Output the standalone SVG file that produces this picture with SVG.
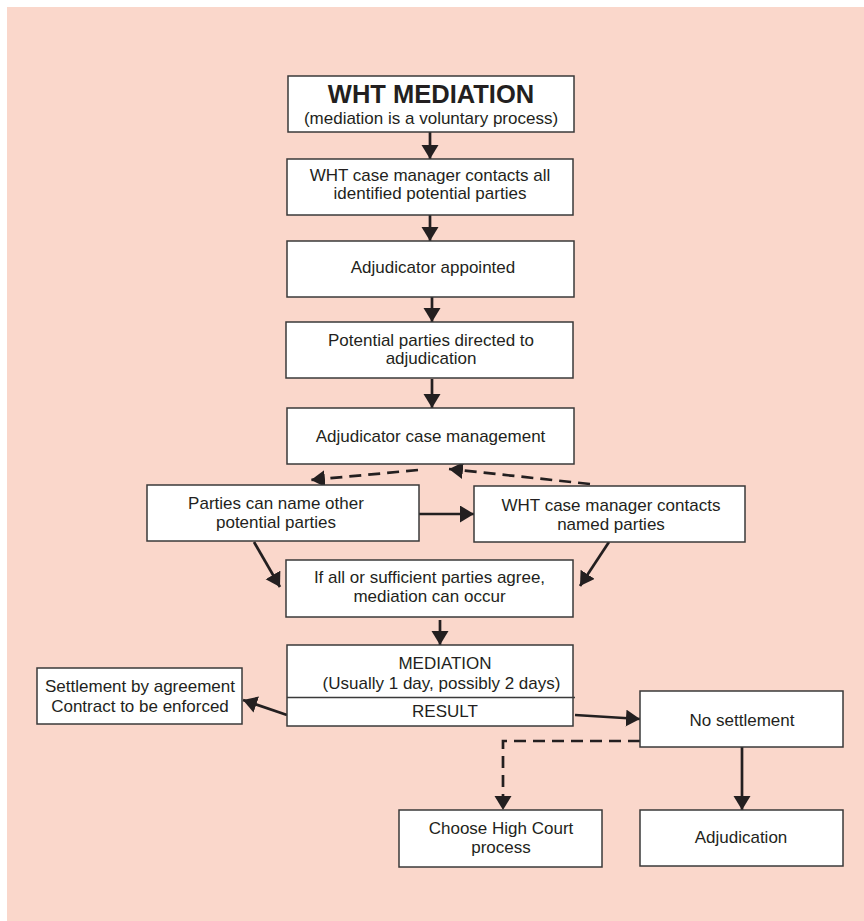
<svg xmlns="http://www.w3.org/2000/svg" width="864" height="921" viewBox="0 0 864 921">
<defs>
<style>
.box{fill:#fff;stroke:#3a3a3a;stroke-width:1.5}
.t{font-family:"Liberation Sans",Arial,Helvetica,sans-serif;font-size:17px;fill:#231f20;text-anchor:middle}
.title{font-family:"Liberation Sans",Arial,Helvetica,sans-serif;font-size:25.5px;font-weight:bold;fill:#231f20;text-anchor:middle}
.c{stroke:#231f20;stroke-width:2.7;fill:none;marker-end:url(#ah)}
.d{stroke:#231f20;stroke-width:2.7;fill:none;stroke-dasharray:12 7;marker-end:url(#ah)}
</style>
<marker id="ah" markerUnits="userSpaceOnUse" markerWidth="18" markerHeight="18" refX="14" refY="8.5" orient="auto">
<path d="M0,0 L14,8.5 L0,17 z" fill="#231f20"/>
</marker>
</defs>
<rect x="7" y="7" width="857" height="914" fill="#fad7cb"/>
<g id="connectors">
<line class="c" x1="430" y1="132" x2="430" y2="159"/>
<line class="c" x1="430" y1="215" x2="430" y2="241"/>
<line class="c" x1="432" y1="297" x2="432" y2="322"/>
<line class="c" x1="432" y1="379" x2="432" y2="408"/>
<line class="d" x1="418" y1="470" x2="311" y2="480"/>
<line class="d" x1="590" y1="484" x2="449" y2="469"/>
<line class="c" x1="419" y1="514" x2="474" y2="514"/>
<line class="c" x1="254" y1="542" x2="280" y2="587"/>
<line class="c" x1="609" y1="542" x2="580" y2="586"/>
<line class="c" x1="440" y1="620" x2="440" y2="645"/>
<line class="c" x1="287" y1="715" x2="243" y2="700"/>
<line class="c" x1="575" y1="715" x2="640" y2="719"/>
<polyline class="d" points="640,741 503,741 503,810"/>
<line class="c" x1="742" y1="747" x2="742" y2="810"/>
</g>
<g id="n-title">
<rect class="box" x="288" y="76" width="286" height="56"/>
<text class="title" x="431" y="103">WHT MEDIATION</text>
<text class="t" x="431" y="123.5">(mediation is a voluntary process)</text>
</g>
<g id="n-contacts">
<rect class="box" x="287" y="159" width="286" height="56"/>
<text class="t" x="430" y="180.7">WHT case manager contacts all</text>
<text class="t" x="430" y="199.3">identified potential parties</text>
</g>
<g id="n-appointed">
<rect class="box" x="287" y="241" width="287" height="56"/>
<text class="t" x="433" y="272.7">Adjudicator appointed</text>
</g>
<g id="n-directed">
<rect class="box" x="286" y="322" width="287" height="56"/>
<text class="t" x="431" y="345.7">Potential parties directed to</text>
<text class="t" x="431" y="364">adjudication</text>
</g>
<g id="n-casemgmt">
<rect class="box" x="287" y="408" width="287" height="56"/>
<text class="t" x="430.5" y="441.7">Adjudicator case management</text>
</g>
<g id="n-name">
<rect class="box" x="147" y="485" width="272" height="56"/>
<text class="t" x="276" y="509.3">Parties can name other</text>
<text class="t" x="276" y="528.3">potential parties</text>
</g>
<g id="n-named">
<rect class="box" x="474" y="486" width="271" height="56"/>
<text class="t" x="611" y="510.7">WHT case manager contacts</text>
<text class="t" x="611" y="529.7">named parties</text>
</g>
<g id="n-agree">
<rect class="box" x="286" y="560" width="287" height="57"/>
<text class="t" x="429.5" y="582.7">If all or sufficient parties agree,</text>
<text class="t" x="429.5" y="601.7">mediation can occur</text>
</g>
<g id="n-mediation">
<rect class="box" x="287" y="645" width="286" height="81"/>
<line x1="287" y1="697.5" x2="575" y2="697.5" stroke="#3a3a3a" stroke-width="1.5"/>
<text class="t" x="445" y="669">MEDIATION</text>
<text class="t" x="441.5" y="689.3">(Usually 1 day, possibly 2 days)</text>
<text class="t" x="445" y="717.3">RESULT</text>
</g>
<g id="n-settlement">
<rect class="box" x="37" y="668" width="205" height="56"/>
<text class="t" x="140" y="692.3">Settlement by agreement</text>
<text class="t" x="140" y="711.7">Contract to be enforced</text>
</g>
<g id="n-nosettlement">
<rect class="box" x="640" y="691" width="203" height="56"/>
<text class="t" x="742" y="725.7">No settlement</text>
</g>
<g id="n-highcourt">
<rect class="box" x="399" y="810" width="203" height="57"/>
<text class="t" x="501" y="834">Choose High Court</text>
<text class="t" x="501" y="853.3">process</text>
</g>
<g id="n-adjudication">
<rect class="box" x="640" y="810" width="203" height="56"/>
<text class="t" x="741" y="842.7">Adjudication</text>
</g>
</svg>
